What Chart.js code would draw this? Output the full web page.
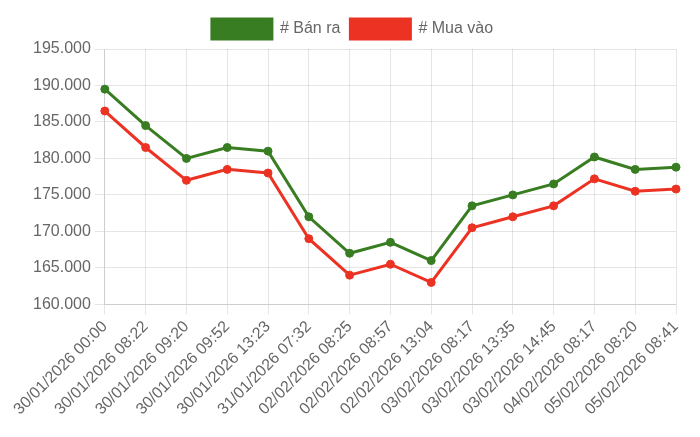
<!DOCTYPE html>
<html>
<head>
<meta charset="utf-8">
<script src="https://cdn.jsdelivr.net/npm/chart.js@4/dist/chart.umd.min.js"></script>
<style>
    body { margin: 0; background: #fff; }
    #wrap { width: 700px; height: 437px; }
</style>
</head>
<body>
<div id="wrap"><canvas id="price-chart"></canvas></div>
<script>
const labels = [
    '30/01/2026 00:00', '30/01/2026 08:22', '30/01/2026 09:20', '30/01/2026 09:52',
    '30/01/2026 13:23', '31/01/2026 07:32', '02/02/2026 08:25', '02/02/2026 08:57',
    '02/02/2026 13:04', '03/02/2026 08:17', '03/02/2026 13:35', '03/02/2026 14:45',
    '04/02/2026 08:17', '05/02/2026 08:20', '05/02/2026 08:41'
];
const sellPrices = [189500, 184500, 180000, 181500, 181000, 172000, 167000, 168500,
    166000, 173500, 175000, 176500, 180200, 178500, 178800];
const buyPrices = [186500, 181500, 177000, 178500, 178000, 169000, 164000, 165500,
    163000, 170500, 172000, 173500, 177200, 175500, 175800];

const yMin = 160000;
const yMax = 195000;
const yStep = 5000;

const chartColors = {
    sell: '#387d22',
    buy: '#ec3323'
};

// format 195000 -> 195.000
function formatPrice(value) {
    return String(Math.round(value)).replace(/\B(?=(\d{3})+(?!\d))/g, '.');
}

Chart.defaults.font.family = '"Helvetica Neue", Helvetica, Arial, sans-serif';
Chart.defaults.font.size = 16;
Chart.defaults.color = '#666';

function makeDataset(label, data, color) {
    return {
        label: label,
        data: data,
        borderColor: color,
        backgroundColor: color,
        pointBackgroundColor: color,
        pointBorderColor: color,
        borderWidth: 3,
        pointRadius: 4,
        pointBorderWidth: 1,
        tension: 0,
        fill: false
    };
}

const ctx = document.getElementById('price-chart').getContext('2d');
new Chart(ctx, {
    type: 'line',
    data: {
        labels: labels,
        datasets: [
            makeDataset('# Bán ra', sellPrices, chartColors.sell),
            makeDataset('# Mua vào', buyPrices, chartColors.buy)
        ]
    },
    options: {
        responsive: true,
        maintainAspectRatio: false,
        animation: false,
        layout: { padding: { left: 29, right: 24, top: 9, bottom: 15 } },
        plugins: {
            legend: {
                labels: {
                    boxWidth: 60,
                    boxHeight: 20,
                    padding: 10,
                    font: { size: 16 }
                }
            },
            tooltip: { enabled: false }
        },
        scales: {
            x: {
                grid: { color: 'rgba(0,0,0,0.1)', tickLength: 10 },
                ticks: { maxRotation: 45, minRotation: 45, autoSkip: false, font: { size: 16 } }
            },
            y: {
                min: yMin,
                max: yMax,
                grid: { color: 'rgba(0,0,0,0.1)', tickLength: 10 },
                ticks: {
                    stepSize: yStep,
                    padding: 4,
                    font: { size: 16 },
                    callback: function(value) { return formatPrice(value); }
                }
            }
        }
    }
});
</script>
</body>
</html>
